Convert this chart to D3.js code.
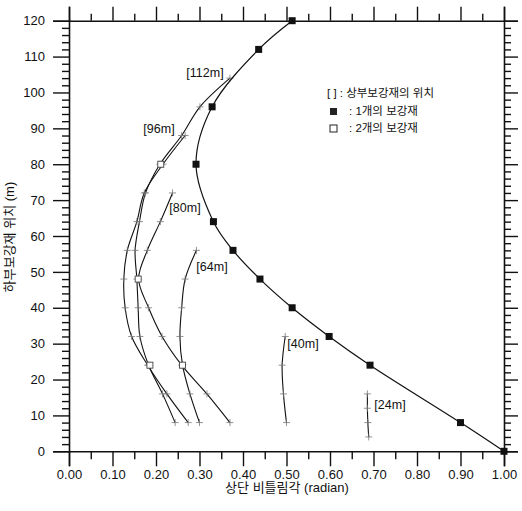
<!DOCTYPE html>
<html>
<head>
<meta charset="utf-8">
<script src="https://cdn.jsdelivr.net/npm/d3@7"></script>
<style>
  html, body { margin: 0; padding: 0; background: #fff; }
  svg { display: block; }
  text { font-family: "Liberation Sans", Arial, "Noto Sans CJK KR", sans-serif; fill: #111; }
</style>
</head>
<body>
<svg id="chart" width="522" height="511"></svg>
<script>
// Axis ticks
const xTicks = [0, 0.1, 0.2, 0.3, 0.4, 0.5, 0.6, 0.7, 0.8, 0.9, 1.0];
const yTicks = [0, 10, 20, 30, 40, 50, 60, 70, 80, 90, 100, 110, 120];

// Single reinforcement: lower position (m) vs top twist angle (radian)
const singlePos = [0, 8, 24, 32, 40, 48, 56, 64, 80, 96, 112, 120];
const singleTwist = [1.00, 0.90, 0.692, 0.598, 0.513, 0.439, 0.377, 0.332, 0.292, 0.329, 0.436, 0.513];

// Two reinforcements: one curve per upper position
const pos112 = [8, 16, 24, 32, 40, 48, 56, 64, 72, 80, 88, 96, 104];
const twist112 = [0.244, 0.215, 0.183, 0.163, 0.159, 0.156, 0.152, 0.162, 0.176, 0.209, 0.259, 0.301, 0.370];
const pos96 = [8, 16, 24, 32, 40, 48, 56, 64, 72, 80, 88];
const twist96 = [0.274, 0.225, 0.181, 0.144, 0.129, 0.126, 0.134, 0.156, 0.173, 0.216, 0.267];
const pos80 = [8, 16, 24, 32, 40, 48, 56, 64, 72];
const twist80 = [0.370, 0.317, 0.259, 0.214, 0.183, 0.160, 0.180, 0.210, 0.238];
const pos64 = [8, 16, 24, 32, 40, 48, 56];
const twist64 = [0.300, 0.278, 0.261, 0.255, 0.259, 0.267, 0.293];
const pos40 = [8, 16, 24, 32];
const twist40 = [0.500, 0.493, 0.490, 0.497];
const pos24 = [4, 8, 12, 16];
const twist24 = [0.689, 0.687, 0.686, 0.686];

// Curve labels: upper reinforcement position
const curveLabels = ["[112m]", "[96m]", "[80m]", "[64m]", "[40m]", "[24m]"];

// Optimal points for two reinforcements
const optPos = [24, 24, 48, 80];
const optTwist = [0.186, 0.261, 0.159, 0.211];

const svg = d3.select("#chart");
const x = d3.scaleLinear().domain([0, 1]).range([69, 504]);
const y = d3.scaleLinear().domain([0, 120]).range([451.3, 20.7]);

const isMajorX = v => Math.abs(Math.round(v * 10) - v * 10) < 1e-6;
const isMajorY = v => v % 10 === 0;

// Bottom axis
const xAll = d3.range(0, 21).map(i => i * 0.05);
const gB = svg.append("g").attr("transform", `translate(0,${y(0)})`)
  .call(d3.axisBottom(x).tickValues(xAll).tickSize(15).tickPadding(3)
    .tickFormat(v => isMajorX(v) ? d3.format(".2f")(v) : ""));
gB.selectAll(".tick line").attr("y2", d => isMajorX(d) ? 15 : 8);
// Top axis
const gT = svg.append("g").attr("transform", `translate(0,${y(120)})`)
  .call(d3.axisTop(x).tickValues(xAll).tickSize(14).tickFormat(""));
gT.selectAll(".tick line").attr("y2", d => isMajorX(d) ? -14 : -7);
// Left axis
const yAll = d3.range(0, 121, 2);
const gL = svg.append("g").attr("transform", `translate(${x(0)},0)`)
  .call(d3.axisLeft(y).tickValues(yAll).tickSize(16).tickPadding(8)
    .tickFormat(v => isMajorY(v) ? String(v) : ""));
gL.selectAll(".tick line").attr("x2", d => isMajorY(d) ? -16 : -7);
// Right axis
const gR = svg.append("g").attr("transform", `translate(${x(1)},0)`)
  .call(d3.axisRight(y).tickValues(yAll).tickSize(14).tickFormat(""));
gR.selectAll(".tick line").attr("x2", d => isMajorY(d) ? 14 : 7);

[gB, gT, gL, gR].forEach(g => {
  g.select(".domain").attr("stroke", "#111").attr("stroke-width", 1.6);
  g.selectAll(".tick line").attr("stroke", "#111").attr("stroke-width", 1.4);
  g.selectAll(".tick text").attr("font-size", 13).attr("fill", "#111")
    .style("font-family", '"Liberation Sans", Arial, sans-serif');
});

// Axis titles
svg.append("text").attr("x", 287).attr("y", 489).attr("text-anchor", "middle")
  .attr("dominant-baseline", "middle").attr("font-size", 13)
  .text("상단 비틀림각 (radian)");
svg.append("text").attr("transform", "translate(11,237) rotate(-90)")
  .attr("text-anchor", "middle").attr("dominant-baseline", "middle")
  .attr("font-size", 13).text("하부보강재 위치 (m)");

const line = d3.line().x(d => x(d[1])).y(d => y(d[0])).curve(d3.curveCatmullRom.alpha(0.5));

// Two-reinforcement curves
const curves = [
  [pos112, twist112], [pos96, twist96], [pos80, twist80],
  [pos64, twist64], [pos40, twist40], [pos24, twist24]
];
const curveG = svg.append("g");
curves.forEach(([p, t]) => {
  const pts = p.map((v, i) => [v, t[i]]);
  curveG.append("path").attr("d", line(pts)).attr("fill", "none")
    .attr("stroke", "#111").attr("stroke-width", 1.1);
  curveG.selectAll(null).data(pts).enter().append("path")
    .attr("d", d => `M${x(d[1]) - 3.5},${y(d[0])}h7M${x(d[1])},${y(d[0]) - 3.5}v7`)
    .attr("stroke", "#777").attr("stroke-width", 0.8);
});

// Single reinforcement curve
const singlePts = singlePos.map((v, i) => [v, singleTwist[i]]);
svg.append("path").attr("d", line(singlePts)).attr("fill", "none")
  .attr("stroke", "#111").attr("stroke-width", 1.2);
svg.selectAll(".sq").data(singlePts).enter().append("rect").attr("class", "sq")
  .attr("x", d => x(d[1]) - 3.5).attr("y", d => y(d[0]) - 3.5)
  .attr("width", 7).attr("height", 7).attr("fill", "#111");

// Open squares
svg.selectAll(".osq").data(optPos.map((v, i) => [v, optTwist[i]])).enter().append("rect")
  .attr("class", "osq")
  .attr("x", d => x(d[1]) - 3).attr("y", d => y(d[0]) - 3)
  .attr("width", 6).attr("height", 6).attr("fill", "#fff")
  .attr("stroke", "#444").attr("stroke-width", 0.9);

// Curve labels
const labelPos = [[205, 74], [159, 130], [185, 209], [212, 268], [303, 345], [390, 406]];
curveLabels.forEach((t, i) => {
  svg.append("text").attr("x", labelPos[i][0]).attr("y", labelPos[i][1])
    .attr("text-anchor", "middle").attr("dominant-baseline", "middle")
    .attr("font-size", 12.5).text(t);
});

// Legend
const lg = svg.append("g").attr("font-size", 11.5);
lg.append("text").attr("x", 327).attr("y", 94).attr("dominant-baseline", "middle")
  .text("[ ] : 상부보강재의 위치");
lg.append("rect").attr("x", 330).attr("y", 108).attr("width", 7).attr("height", 7).attr("fill", "#222");
lg.append("text").attr("x", 349).attr("y", 112).attr("dominant-baseline", "middle")
  .text(": 1개의 보강재");
lg.append("rect").attr("x", 330).attr("y", 125).attr("width", 7).attr("height", 7)
  .attr("fill", "#fff").attr("stroke", "#222").attr("stroke-width", 1);
lg.append("text").attr("x", 349).attr("y", 129).attr("dominant-baseline", "middle")
  .text(": 2개의 보강재");
</script>
</body>
</html>
